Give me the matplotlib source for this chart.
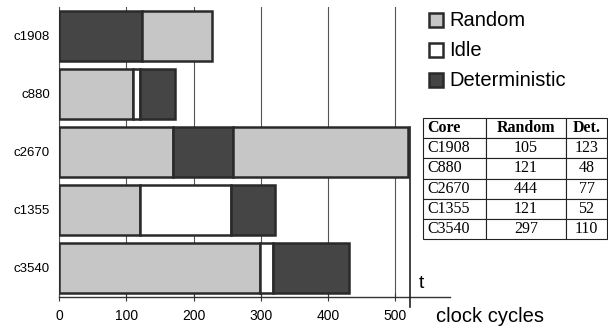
import matplotlib
matplotlib.use("Agg")
import matplotlib.pyplot as plt
from matplotlib.patches import Rectangle

# ---- data ----
cores = ["c1908", "c880", "c2670", "c1355", "c3540"]
segment_types = [
    ["Deterministic", "Random"],
    ["Random", "Idle", "Deterministic"],
    ["Random", "Deterministic", "Random"],
    ["Random", "Idle", "Deterministic"],
    ["Random", "Idle", "Deterministic"],
]
segment_values = [
    [124, 104],
    [110, 11, 51],
    [169, 90, 260],
    [121, 135, 65],
    [298, 20, 113],
]
t_marker = 521
x_ticks = [0, 100, 200, 300, 400, 500]
legend_labels = ["Random", "Idle", "Deterministic"]

table_header = ["Core", "Random", "Det."]
table_core = ["C1908", "C880", "C2670", "C1355", "C3540"]
table_random = [105, 121, 444, 121, 297]
table_det = [123, 48, 77, 52, 110]

# ---- style ----
colors = {"Random": "#c6c6c6", "Idle": "#ffffff", "Deterministic": "#454545"}
edge = "#2a2a2a"
W, H = 608, 328

plt.rcParams["font.family"] = ["Liberation Sans", "DejaVu Sans"]
fig = plt.figure(figsize=(W / 100, H / 100), dpi=100)

def fx(px):
    return px / W

def fy(py):
    return 1 - py / H

ax = fig.add_axes([fx(59), fy(297), fx(450) - fx(59), (297 - 7) / H])

for i, (types, vals) in enumerate(zip(segment_types, segment_values)):
    left = 0
    for typ, v in zip(types, vals):
        ax.barh(i, v, left=left, height=0.85, color=colors[typ],
                edgecolor=edge, linewidth=1.8, zorder=3)
        left += v

ax.set_xlim(0, 581)
ax.set_ylim(4.5, -0.5)
ax.set_xticks(x_ticks)
ax.set_yticks(range(len(cores)))
ax.set_yticklabels(cores, fontsize=9.5)
ax.tick_params(axis="y", length=0, pad=6.5)
ax.tick_params(axis="x", direction="inout", length=6, width=0.8,
               labelsize=10, pad=6, color="#333")
ax.grid(axis="x", color="#555555", linewidth=0.8)
ax.set_axisbelow(True)
for s in ["top", "right"]:
    ax.spines[s].set_visible(False)
ax.spines["left"].set_color("#555555")
ax.spines["left"].set_linewidth(0.8)
ax.spines["bottom"].set_color("#333333")
ax.spines["bottom"].set_linewidth(1.0)

# t marker line
ax.plot([t_marker, t_marker], [2 - 0.425, 4.68], color="#222", lw=1.2,
        clip_on=False, zorder=4)
fig.text(fx(421), fy(283), "t", fontsize=14, ha="center", va="center")
fig.text(fx(436), fy(316), "clock cycles", fontsize=14.5, ha="left", va="center")

# legend (manual)
leg_y = [20, 50, 80]
for lab, yy in zip(legend_labels, leg_y):
    fig.add_artist(Rectangle((fx(429), fy(yy + 7)), 14 / W, 14 / H,
                             transform=fig.transFigure, facecolor=colors[lab],
                             edgecolor=edge, linewidth=1.8))
    fig.text(fx(449), fy(yy), lab, fontsize=14.5, ha="left", va="center")

# table
tax = fig.add_axes([fx(423), fy(239), (607 - 423) / W, (239 - 118) / H])
tax.axis("off")
cell_text = [[c, str(r), str(d)] for c, r, d in zip(table_core, table_random, table_det)]
tbl = tax.table(cellText=cell_text, colLabels=table_header, cellLoc="center",
                bbox=[0, 0, 1, 1], colWidths=[63, 80, 41])
tbl.auto_set_font_size(False)
for (r, c), cell in tbl.get_celld().items():
    cell.set_linewidth(0.8)
    cell.set_edgecolor("#222")
    cell.get_text().set_fontsize(11.5)
    cell.get_text().set_family(["Liberation Serif", "DejaVu Serif"])
    if r == 0:
        cell.get_text().set_fontweight("bold")
    if c == 0:
        cell._loc = "left"
        cell.PAD = 0.07
    cell.get_text().set_ha(cell._loc)

fig.savefig("out.png", dpi=100)
